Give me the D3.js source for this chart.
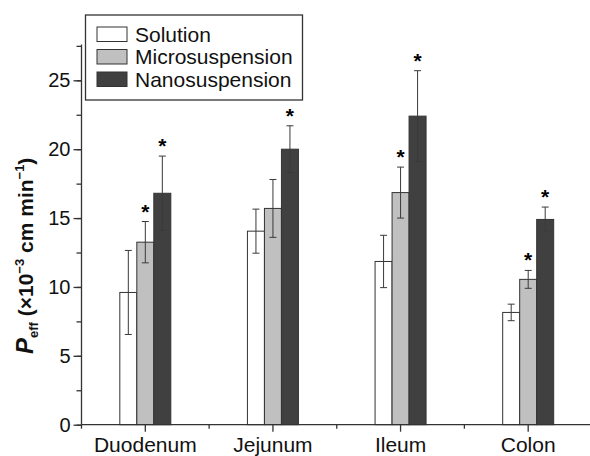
<!DOCTYPE html>
<html>
<head>
<meta charset="utf-8">
<script src="https://cdn.jsdelivr.net/npm/d3@7"></script>
<style>
  body { margin: 0; background: #fff; }
  svg { display: block; font-family: 'Liberation Sans', Arial, sans-serif; }
</style>
</head>
<body>
<svg id="chart" width="590" height="456"></svg>
<script>
// Data
const segments = ['Duodenum', 'Jejunum', 'Ileum', 'Colon']
const formulations = ['Solution', 'Microsuspension', 'Nanosuspension']
const solution = [9.6, 14.05, 11.85, 8.15]
const solutionErr = [3.05, 1.6, 1.9, 0.6]
const micro = [13.25, 15.7, 16.85, 10.55]
const microErr = [1.5, 2.1, 1.85, 0.65]
const nano = [16.8, 20.0, 22.4, 14.9]
const nanoErr = [2.7, 1.7, 3.3, 0.9]
// significance marks (* above the bar)
const solutionStar = [false, false, false, false]
const microStar = [true, false, true, true]
const nanoStar = [true, true, true, true]
const yTicks = [0, 5, 10, 15, 20, 25]

const fills = ['#ffffff', '#c0c0c0', '#404040']
const axisColor = '#333'

const svg = d3.select('#chart')

const margin = { left: 81.5, top: 44.5, bottom: 424.7, right: 592 }

// one band per intestinal segment, bars grouped at the centre
const x = d3.scaleBand()
  .domain(segments)
  .range([margin.left, margin.right])

const barW = 17
const xSub = d3.scaleBand()
  .domain(formulations)
  .range([0, barW * 3])

const y = d3.scaleLinear()
  .domain([0, 27.6])
  .range([margin.bottom, margin.top])

const rows = segments.map((s, i) => ({
  segment: s,
  values: [
    { f: formulations[0], v: solution[i], e: solutionErr[i], star: solutionStar[i] },
    { f: formulations[1], v: micro[i], e: microErr[i], star: microStar[i] },
    { f: formulations[2], v: nano[i], e: nanoErr[i], star: nanoStar[i] },
  ],
}))

const groups = svg.append('g')
  .selectAll('g')
  .data(rows)
  .enter()
  .append('g')
  .attr('transform', d => `translate(${x(d.segment) + x.bandwidth() / 2 - barW * 1.5},0)`)

groups.selectAll('rect')
  .data(d => d.values)
  .enter()
  .append('rect')
  .attr('x', d => xSub(d.f))
  .attr('y', d => y(d.v))
  .attr('width', xSub.bandwidth())
  .attr('height', d => y(0) - y(d.v))
  .attr('fill', (d, i) => fills[i])
  .attr('stroke', axisColor)
  .attr('stroke-width', 1)

// error bars
const err = groups.selectAll('g.err')
  .data(d => d.values)
  .enter()
  .append('g')
  .attr('class', 'err')
  .attr('stroke', '#3a3a3a')
  .attr('stroke-width', 1)

const cx = d => xSub(d.f) + xSub.bandwidth() / 2
err.append('line')
  .attr('x1', cx).attr('x2', cx)
  .attr('y1', d => y(d.v + d.e)).attr('y2', d => y(d.v - d.e))
err.append('line')
  .attr('x1', d => cx(d) - 3.5).attr('x2', d => cx(d) + 3.5)
  .attr('y1', d => y(d.v + d.e)).attr('y2', d => y(d.v + d.e))
err.append('line')
  .attr('x1', d => cx(d) - 3.5).attr('x2', d => cx(d) + 3.5)
  .attr('y1', d => y(d.v - d.e)).attr('y2', d => y(d.v - d.e))

groups.selectAll('text.star')
  .data(d => d.values.filter(v => v.star))
  .enter()
  .append('text')
  .attr('class', 'star')
  .attr('x', cx)
  .attr('y', d => y(d.v + d.e) - 3)
  .attr('text-anchor', 'middle')
  .style('font-size', '21px')
  .style('font-weight', 'bold')
  .text('*')

// y axis with minor ticks every 2.5
const yAxisG = svg.append('g')
  .attr('transform', `translate(${margin.left},0)`)
yAxisG.call(d3.axisLeft(y).tickValues(d3.range(0, 27.6, 2.5)).tickSize(5).tickFormat(''))
yAxisG.append('g')
  .call(d3.axisLeft(y).tickValues(yTicks).tickSize(8).tickPadding(3))
yAxisG.selectAll('.domain').remove()
yAxisG.append('line')
  .attr('x1', 0).attr('x2', 0)
  .attr('y1', y(0)).attr('y2', y(27.6))
yAxisG.selectAll('line').attr('stroke', axisColor).attr('stroke-width', 1.3)
yAxisG.selectAll('text')
  .style('font-size', '20px')
  .style('font-family', "'Liberation Sans', Arial, sans-serif")
  .attr('fill', '#111')

// x axis: ticks at segment centres, minor ticks at band edges
const xAxisG = svg.append('g')
  .attr('transform', `translate(0,${y(0)})`)
xAxisG.append('line')
  .attr('x1', margin.left).attr('x2', margin.right)
  .attr('y1', 0).attr('y2', 0)
xAxisG.selectAll('line.minor')
  .data(segments)
  .enter()
  .append('line')
  .attr('class', 'minor')
  .attr('x1', d => x(d)).attr('x2', d => x(d))
  .attr('y1', 0).attr('y2', 4)
xAxisG.selectAll('line.major')
  .data(segments)
  .enter()
  .append('line')
  .attr('class', 'major')
  .attr('x1', d => x(d) + x.bandwidth() / 2).attr('x2', d => x(d) + x.bandwidth() / 2)
  .attr('y1', 0).attr('y2', 7)
xAxisG.selectAll('line').attr('stroke', axisColor).attr('stroke-width', 1.3)
xAxisG.selectAll('text')
  .data(segments)
  .enter()
  .append('text')
  .attr('x', d => x(d) + x.bandwidth() / 2)
  .attr('y', 27.5)
  .attr('text-anchor', 'middle')
  .style('font-size', '21px')
  .attr('fill', '#111')
  .text(d => d)

// y axis title, written upward from the bottom
const title = svg.append('text')
  .attr('transform', 'translate(33,354) rotate(-90)')
  .attr('text-anchor', 'start')
  .style('font-size', '21px')
  .style('font-weight', 'bold')
  .attr('fill', '#111')
title.append('tspan').style('font-style', 'italic').style('font-size', '24px').text('P')
title.append('tspan').attr('dy', 5).style('font-size', '13px').text('eff')
title.append('tspan').attr('dy', -5).text(' (×10')
title.append('tspan').attr('dy', -9).style('font-size', '13px').text('−3')
title.append('tspan').attr('dy', 9).text(' cm min')
title.append('tspan').attr('dy', -9).style('font-size', '13px').text('−1')
title.append('tspan').attr('dy', 9).text(')')

// legend
const legend = svg.append('g')
legend.append('rect')
  .attr('x', 85.5).attr('y', 15)
  .attr('width', 217).attr('height', 85)
  .attr('fill', '#fff')
  .attr('stroke', axisColor)
  .attr('stroke-width', 1.3)
const items = legend.selectAll('g.item')
  .data(formulations)
  .enter()
  .append('g')
  .attr('class', 'item')
  .attr('transform', (d, i) => `translate(97,${27 + i * 22.5})`)
items.append('rect')
  .attr('width', 30).attr('height', 14.5)
  .attr('fill', (d, i) => fills[i])
  .attr('stroke', axisColor)
  .attr('stroke-width', 1)
items.append('text')
  .attr('x', 38).attr('y', 14.5)
  .style('font-size', '21px')
  .attr('fill', '#111')
  .text(d => d)
</script>
</body>
</html>
